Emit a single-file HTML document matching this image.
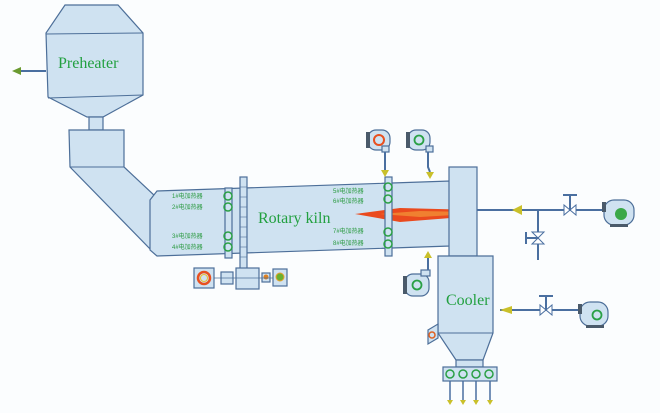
<!DOCTYPE html>
<html><head><meta charset="utf-8"><style>
html,body{margin:0;padding:0;background:#fbfdfe;}
svg{display:block}
.f{fill:#cfe2f1;stroke:#4d6f99;stroke-width:1.2}
.g{fill:none;stroke:#2aa045;stroke-width:1.5}
.s{font-family:"Liberation Sans","Noto Sans CJK SC",sans-serif;font-size:6px;fill:#2a9a40}
.l{font-family:"Liberation Serif",serif;fill:#22a040}
.p{stroke:#4a6fa0;stroke-width:2;fill:none}
.a{fill:#c9c02a}
</style></head><body>
<svg width="660" height="413" viewBox="0 0 660 413" xmlns="http://www.w3.org/2000/svg">
<rect width="660" height="413" fill="#fbfdfe"/>
<!-- preheater -->
<polygon class="f" points="65,5 118,5 143,33 143,95 103,117 87,117 48,97 46,33"/>
<line x1="46" y1="34" x2="143" y2="33" stroke="#4d6f99"/>
<line x1="48" y1="98" x2="143" y2="95" stroke="#4d6f99"/>
<text class="l" x="58" y="68" font-size="16">Preheater</text>
<line x1="20" y1="71" x2="46" y2="71" class="p"/>
<polygon points="12,71 21,67 21,75" fill="#6a9a30"/>
<rect class="f" x="89" y="117" width="14" height="13"/>
<!-- riser + duct -->
<polygon class="f" points="69,130 124,130 124,167 155,196 155,254 70,167"/>
<line x1="70" y1="167" x2="124" y2="167" stroke="#4d6f99"/>
<!-- kiln -->
<polygon class="f" points="150,200 157,191 450,181 450,246 157,256 150,250"/>
<!-- flame -->
<polygon points="355,214 400,208 476,210 476,216 400,222" fill="#ea4a1e"/>
<polygon points="380,214 420,211 470,212 470,214 420,217" fill="#f08030"/>
<!-- hood -->
<rect class="f" x="449" y="167" width="28" height="89"/>
<!-- cooler -->
<polygon class="f" points="438,256 493,256 493,333 483,360 456,360 438,333"/>
<line x1="438" y1="333" x2="493" y2="333" stroke="#4d6f99"/>
<rect class="f" x="456" y="360" width="27" height="7"/>
<text class="l" x="446" y="305" font-size="16">Cooler</text>
<rect class="f" x="443" y="367" width="54" height="14"/>
<g class="g"><circle cx="450" cy="374" r="4"/><circle cx="463" cy="374" r="4"/><circle cx="476" cy="374" r="4"/><circle cx="489" cy="374" r="4"/></g>
<g stroke="#4a6fa0" stroke-width="1.5"><line x1="450" y1="381" x2="450" y2="400"/><line x1="463" y1="381" x2="463" y2="400"/><line x1="476" y1="381" x2="476" y2="400"/><line x1="490" y1="381" x2="490" y2="400"/></g>
<g class="a"><polygon points="447,400 453,400 450,405"/><polygon points="460,400 466,400 463,405"/><polygon points="473,400 479,400 476,405"/><polygon points="487,400 493,400 490,405"/></g>
<polygon class="f" points="428,330 438,324 438,338 428,344"/>
<circle cx="432" cy="335" r="3" fill="none" stroke="#e06020" stroke-width="1.5"/>
<!-- tires -->
<rect class="f" x="225" y="188" width="7" height="70"/>
<rect class="f" x="385" y="177" width="7" height="79"/>
<g class="g"><circle cx="228" cy="196" r="4"/><circle cx="228" cy="207" r="4"/><circle cx="228" cy="236" r="4"/><circle cx="228" cy="247" r="4"/>
<circle cx="388" cy="187" r="4"/><circle cx="388" cy="199" r="4"/><circle cx="388" cy="232" r="4"/><circle cx="388" cy="244" r="4"/></g>
<g class="s"><text x="172" y="198">1#电加热器</text><text x="172" y="209">2#电加热器</text><text x="172" y="238">3#电加热器</text><text x="172" y="249">4#电加热器</text>
<text x="333" y="193">5#电加热器</text><text x="333" y="203">6#电加热器</text><text x="333" y="233">7#电加热器</text><text x="333" y="245">8#电加热器</text></g>
<!-- girth gear -->
<rect class="f" x="240" y="177" width="7" height="110"/>
<g stroke="#4d6f99" stroke-width="0.6"><line x1="240" y1="187" x2="247" y2="187"/><line x1="240" y1="197" x2="247" y2="197"/><line x1="240" y1="207" x2="247" y2="207"/><line x1="240" y1="217" x2="247" y2="217"/><line x1="240" y1="227" x2="247" y2="227"/><line x1="240" y1="237" x2="247" y2="237"/><line x1="240" y1="247" x2="247" y2="247"/><line x1="240" y1="257" x2="247" y2="257"/></g>
<text class="l" x="258" y="223" font-size="16">Rotary kiln</text>
<!-- drive -->
<rect class="f" x="194" y="268" width="20" height="20"/>
<circle cx="204" cy="278" r="6" fill="none" stroke="#e85020" stroke-width="2.5"/>
<circle cx="204" cy="278" r="3.5" fill="none" stroke="#e8c030" stroke-width="1"/>
<rect class="f" x="221" y="272" width="12" height="12"/>
<rect class="f" x="236" y="268" width="23" height="21"/>
<rect class="f" x="262" y="273" width="8" height="9"/>
<circle cx="266" cy="277" r="2.5" fill="#e08020"/>
<rect class="f" x="273" y="269" width="14" height="17"/>
<circle cx="280" cy="277" r="4" fill="#6ab030" stroke="#e8a030"/>
<line x1="214" y1="278" x2="273" y2="278" stroke="#4d6f99" stroke-width="0.8"/>
<!-- fans -->
<g transform="translate(368,128)"><rect class="f" x="0" y="2" width="22" height="20" rx="8"/><rect x="-2" y="4" width="4" height="16" fill="#4a5a6a"/><circle cx="11" cy="12" r="5" fill="none" stroke="#e85020" stroke-width="2"/><rect class="f" x="14" y="18" width="7" height="6"/></g>
<line x1="385" y1="152" x2="385" y2="172" class="p"/><polygon class="a" points="381,170 389,170 385,177"/>
<g transform="translate(408,128)"><rect class="f" x="0" y="2" width="22" height="20" rx="8"/><rect x="-2" y="4" width="4" height="16" fill="#4a5a6a"/><circle cx="11" cy="12" r="4.5" fill="none" stroke="#2aa045" stroke-width="1.8"/><rect class="f" x="18" y="18" width="7" height="6"/></g>
<polyline points="428,152 428,167 430,172" class="p"/><polygon class="a" points="426,172 434,172 430,179"/>
<g transform="translate(405,272)"><rect class="f" x="0" y="2" width="24" height="22" rx="8"/><rect x="-2" y="4" width="4" height="18" fill="#4a5a6a"/><circle cx="12" cy="13" r="4.5" fill="none" stroke="#2aa045" stroke-width="1.8"/><rect class="f" x="16" y="-2" width="9" height="6"/></g>
<line x1="428" y1="256" x2="428" y2="270" class="p"/><polygon class="a" points="424,258 432,258 428,251"/>
<!-- right pipe -->
<line x1="477" y1="210" x2="606" y2="210" class="p"/>
<polygon class="a" points="512,210 522,205 522,215"/>
<line x1="538" y1="210" x2="538" y2="260" class="p"/>
<polygon points="532,232 544,232 538,238" fill="#fff" stroke="#4a6fa0"/><polygon points="532,244 544,244 538,238" fill="#fff" stroke="#4a6fa0"/><line x1="526" y1="232" x2="526" y2="244" class="p"/><line x1="526" y1="238" x2="538" y2="238" class="p"/>
<polygon points="564,205 564,215 570,210" fill="#fff" stroke="#4a6fa0"/><polygon points="576,205 576,215 570,210" fill="#fff" stroke="#4a6fa0"/><line x1="570" y1="210" x2="570" y2="195" class="p"/><line x1="563" y1="195" x2="577" y2="195" class="p"/>
<g transform="translate(604,200)"><rect class="f" x="0" y="0" width="30" height="25" rx="10"/><rect x="-2" y="2" width="4" height="10" fill="#4a5a6a"/><circle cx="17" cy="14" r="6" fill="#3aa848"/><rect x="6" y="24" width="18" height="3" fill="#4a5a6a"/></g>
<!-- cooler air pipe -->
<line x1="500" y1="310" x2="590" y2="310" class="p"/>
<polygon class="a" points="500,310 512,306 512,314"/>
<polygon points="540,305 540,315 546,310" fill="#fff" stroke="#4a6fa0"/><polygon points="552,305 552,315 546,310" fill="#fff" stroke="#4a6fa0"/><line x1="546" y1="310" x2="546" y2="296" class="p"/><line x1="539" y1="296" x2="553" y2="296" class="p"/>
<g transform="translate(580,302)"><rect class="f" x="0" y="0" width="28" height="24" rx="10"/><rect x="-2" y="2" width="4" height="10" fill="#4a5a6a"/><circle cx="17" cy="13" r="4.5" fill="none" stroke="#2aa045" stroke-width="1.8"/><rect x="6" y="23" width="18" height="3" fill="#4a5a6a"/></g>
</svg>
</body></html>
